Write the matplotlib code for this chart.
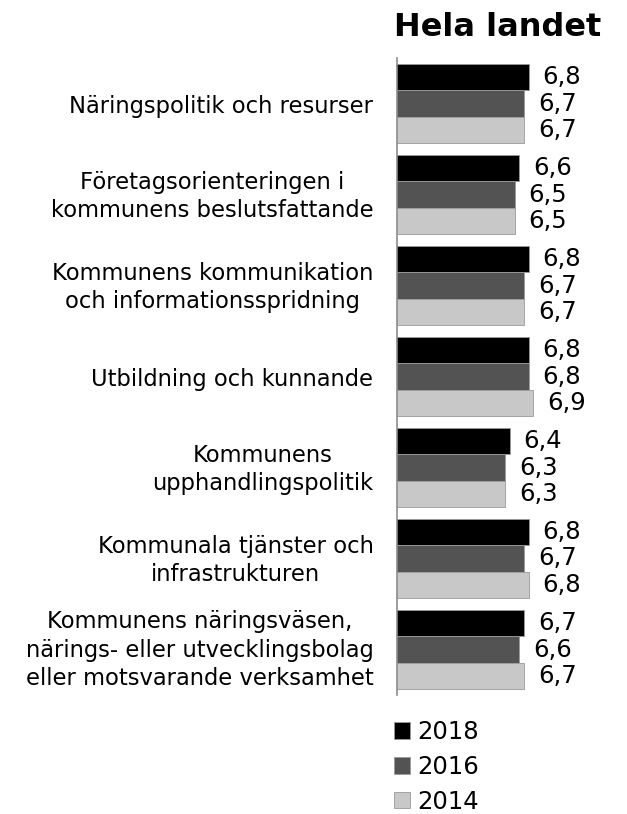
import matplotlib
matplotlib.use("Agg")
import matplotlib.pyplot as plt
import matplotlib.transforms as mtransforms
import numpy as np

categories = [
    "Näringspolitik och resurser",
    "Företagsorienteringen i\nkommunens beslutsfattande",
    "Kommunens kommunikation\noch informationsspridning",
    "Utbildning och kunnande",
    "Kommunens\nupphandlingspolitik",
    "Kommunala tjänster och\ninfrastrukturen",
    "Kommunens näringsväsen,\nnärings- eller utvecklingsbolag\neller motsvarande verksamhet",
]
years = ["2018", "2016", "2014"]
v2018 = [6.8, 6.6, 6.8, 6.8, 6.4, 6.8, 6.7]
v2016 = [6.7, 6.5, 6.7, 6.8, 6.3, 6.7, 6.6]
v2014 = [6.7, 6.5, 6.7, 6.9, 6.3, 6.8, 6.7]
series = [v2018, v2016, v2014]
colors = ["#000000", "#535353", "#c8c8c8"]

plt.rcParams['font.family'] = ['DejaVu Sans']

W, H = 627, 814
fig = plt.figure(figsize=(W / 100, H / 100), dpi=100)
ax = fig.add_axes([397 / W, 1 - 695 / H, (620 - 397) / W, (695 - 58) / H])

y = np.arange(len(categories))
bh = 0.293
offsets = [-bh, 0, bh]
for vals, off, col, yr in zip(series, offsets, colors, years):
    bars = ax.barh(y + off, vals, height=bh, left=0, color=col,
                   edgecolor="#9a9a9a", linewidth=0.6, label=yr)
    for b, v in zip(bars, vals):
        ax.annotate(f"{v:.1f}".replace(".", ","),
                    xy=(v, b.get_y() + b.get_height() / 2),
                    xytext=(10, 0), textcoords="offset points",
                    ha="left", va="center", fontsize=17.5, color="black")

ax.set_xlim(4, 4 + 223 / 47)
ax.set_ylim(len(categories) - 0.5, -0.5)
ax.set_yticks(y)
ax.set_yticklabels(categories, fontsize=16.3, ha="right",
                   multialignment="center", linespacing=1.3)
ax.tick_params(axis="y", length=0, pad=17)
for lab, cat in zip(ax.get_yticklabels(), categories):
    nlines = cat.count("\n")
    if nlines:
        shift = mtransforms.ScaledTranslation(0, (1.5 + 1.5 * nlines) / 100,
                                              fig.dpi_scale_trans)
        lab.set_transform(lab.get_transform() + shift)
ax.set_xticks([])
for s in ["top", "right", "bottom"]:
    ax.spines[s].set_visible(False)
ax.spines["left"].set_color("#8c8c8c")
ax.spines["left"].set_linewidth(1.2)

fig.text(498 / W, 1 - 27 / H, "Hela landet", fontsize=23, fontweight="bold",
         ha="center", va="center")

fig.legend(loc="upper left", bbox_to_anchor=(394 / W, 1 - 720 / H),
           frameon=False, fontsize=17.5, handlelength=0.65, handleheight=0.65,
           handletextpad=0.32, labelspacing=0.45, borderpad=0, borderaxespad=0)

fig.savefig("out.png", dpi=100)
